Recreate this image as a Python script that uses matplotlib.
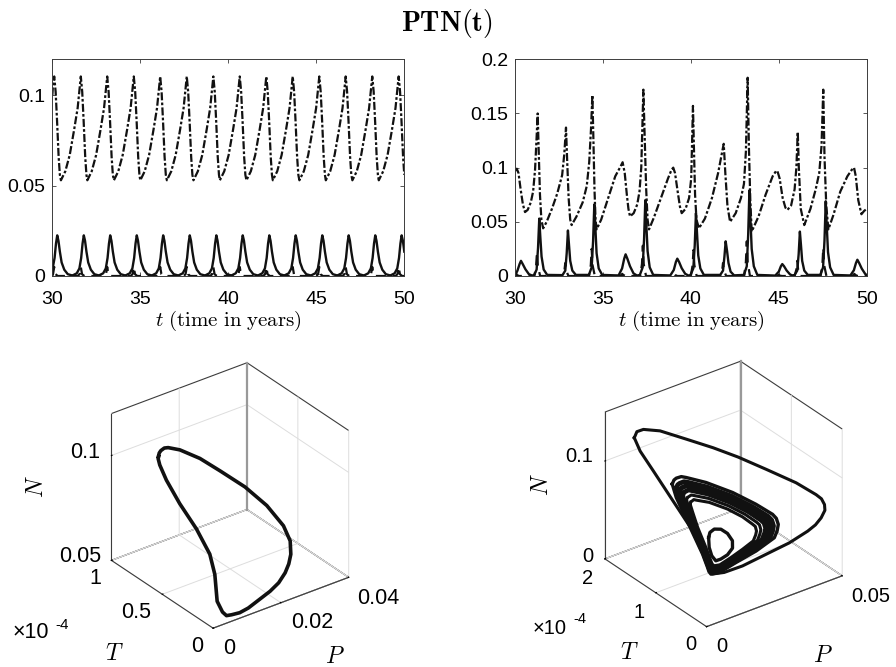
import matplotlib
matplotlib.use("Agg")
import matplotlib.pyplot as plt

plt.rcParams["font.family"] = ["Liberation Sans", "DejaVu Sans"]
plt.rcParams["mathtext.fontset"] = "cm"
plt.rcParams["grid.color"] = "#dddddd"
plt.rcParams["grid.linewidth"] = 0.7

W, H = 896, 667

# Left time series (periodic case)
t_n_left = [30.00, 30.05, 30.11, 30.19, 30.27, 30.36, 30.43, 30.49,
            30.74, 30.99, 31.24, 31.44, 31.54, 31.62, 31.70, 31.78, 31.87, 31.94, 31.99,
            32.24, 32.49, 32.74, 32.94, 33.04, 33.12, 33.20, 33.28, 33.37, 33.44, 33.50,
            33.75, 34.00, 34.25, 34.45, 34.55, 34.63, 34.71, 34.79, 34.88, 34.95, 35.00,
            35.25, 35.50, 35.75, 35.95, 36.05, 36.13, 36.21, 36.29, 36.38, 36.45, 36.51,
            36.76, 37.01, 37.26, 37.46, 37.56, 37.64, 37.72, 37.80, 37.89, 37.96, 38.02,
            38.27, 38.52, 38.77, 38.97, 39.07, 39.15, 39.23, 39.31, 39.40, 39.47, 39.52,
            39.77, 40.02, 40.27, 40.47, 40.57, 40.65, 40.73, 40.81, 40.90, 40.97, 41.03,
            41.28, 41.53, 41.78, 41.98, 42.08, 42.16, 42.24, 42.32, 42.41, 42.48, 42.53,
            42.78, 43.03, 43.28, 43.48, 43.58, 43.66, 43.74, 43.82, 43.91, 43.98, 44.04,
            44.29, 44.54, 44.79, 44.99, 45.09, 45.17, 45.25, 45.33, 45.42, 45.49, 45.54,
            45.79, 46.04, 46.29, 46.49, 46.59, 46.67, 46.75, 46.83, 46.92, 46.99, 47.05,
            47.30, 47.55, 47.80, 48.00, 48.10, 48.18, 48.26, 48.34, 48.43, 48.50, 48.55,
            48.80, 49.05, 49.30, 49.50, 49.60, 49.68, 49.76, 49.84, 49.93, 50.00]
n_left = [.100, .107, .1105, .102, .086, .066, .056, .053,
          .058, .067, .081, .093, .103, .1105, .102, .086, .066, .056, .053,
          .058, .067, .081, .093, .103, .1105, .102, .086, .066, .056, .053,
          .058, .067, .081, .093, .103, .1105, .102, .086, .066, .056, .053,
          .058, .067, .081, .093, .103, .1105, .102, .086, .066, .056, .053,
          .058, .067, .081, .093, .103, .1105, .102, .086, .066, .056, .053,
          .058, .067, .081, .093, .103, .1105, .102, .086, .066, .056, .053,
          .058, .067, .081, .093, .103, .1105, .102, .086, .066, .056, .053,
          .058, .067, .081, .093, .103, .1105, .102, .086, .066, .056, .053,
          .058, .067, .081, .093, .103, .1105, .102, .086, .066, .056, .053,
          .058, .067, .081, .093, .103, .1105, .102, .086, .066, .056, .053,
          .058, .067, .081, .093, .103, .1105, .102, .086, .066, .056, .053,
          .058, .067, .081, .093, .103, .1105, .102, .086, .066, .056, .053,
          .058, .067, .081, .093, .103, .1105, .102, .086, .066, .056]

t_p_left = [30.00, 30.13, 30.21, 30.28, 30.35, 30.43, 30.53, 30.68, 30.88, 31.13,
            31.19, 31.39, 31.54, 31.64, 31.72, 31.79, 31.86, 31.94, 32.04, 32.19, 32.39, 32.64,
            32.69, 32.89, 33.04, 33.14, 33.22, 33.29, 33.36, 33.44, 33.54, 33.69, 33.89, 34.14,
            34.20, 34.40, 34.55, 34.65, 34.73, 34.80, 34.87, 34.95, 35.05, 35.20, 35.40, 35.65,
            35.70, 35.90, 36.05, 36.15, 36.23, 36.30, 36.37, 36.45, 36.55, 36.70, 36.90, 37.15,
            37.21, 37.41, 37.56, 37.66, 37.74, 37.81, 37.88, 37.96, 38.06, 38.21, 38.41, 38.66,
            38.72, 38.92, 39.07, 39.17, 39.25, 39.32, 39.39, 39.47, 39.57, 39.72, 39.92, 40.17,
            40.22, 40.42, 40.57, 40.67, 40.75, 40.82, 40.89, 40.97, 41.07, 41.22, 41.42, 41.67,
            41.73, 41.93, 42.08, 42.18, 42.26, 42.33, 42.40, 42.48, 42.58, 42.73, 42.93, 43.18,
            43.23, 43.43, 43.58, 43.68, 43.76, 43.83, 43.90, 43.98, 44.08, 44.23, 44.43, 44.68,
            44.74, 44.94, 45.09, 45.19, 45.27, 45.34, 45.41, 45.49, 45.59, 45.74, 45.94, 46.19,
            46.24, 46.44, 46.59, 46.69, 46.77, 46.84, 46.91, 46.99, 47.09, 47.24, 47.44, 47.69,
            47.75, 47.95, 48.10, 48.20, 48.28, 48.35, 48.42, 48.50, 48.60, 48.75, 48.95, 49.20,
            49.25, 49.45, 49.60, 49.70, 49.78, 49.85, 49.92, 50.00]
p_left = [.0032, .010, .018, .0225, .0195, .0135, .0075, .0035, .001, .0003,
          .0005, .0015, .0042, .010, .018, .0225, .0195, .0135, .0075, .0035, .001, .0003,
          .0005, .0015, .0042, .010, .018, .0225, .0195, .0135, .0075, .0035, .001, .0003,
          .0005, .0015, .0042, .010, .018, .0225, .0195, .0135, .0075, .0035, .001, .0003,
          .0005, .0015, .0042, .010, .018, .0225, .0195, .0135, .0075, .0035, .001, .0003,
          .0005, .0015, .0042, .010, .018, .0225, .0195, .0135, .0075, .0035, .001, .0003,
          .0005, .0015, .0042, .010, .018, .0225, .0195, .0135, .0075, .0035, .001, .0003,
          .0005, .0015, .0042, .010, .018, .0225, .0195, .0135, .0075, .0035, .001, .0003,
          .0005, .0015, .0042, .010, .018, .0225, .0195, .0135, .0075, .0035, .001, .0003,
          .0005, .0015, .0042, .010, .018, .0225, .0195, .0135, .0075, .0035, .001, .0003,
          .0005, .0015, .0042, .010, .018, .0225, .0195, .0135, .0075, .0035, .001, .0003,
          .0005, .0015, .0042, .010, .018, .0225, .0195, .0135, .0075, .0035, .001, .0003,
          .0005, .0015, .0042, .010, .018, .0225, .0195, .0135, .0075, .0035, .001, .0003,
          .0005, .0015, .0042, .010, .018, .0225, .0195, .0135]

t_t_left = [30.00, 30.04, 30.11, 30.18, 30.31,
            31.44, 31.55, 31.62, 31.69, 31.82,
            32.94, 33.05, 33.12, 33.19, 33.32,
            34.45, 34.56, 34.63, 34.70, 34.83,
            35.95, 36.06, 36.13, 36.20, 36.33,
            37.46, 37.57, 37.64, 37.71, 37.84,
            38.97, 39.08, 39.15, 39.22, 39.35,
            40.47, 40.58, 40.65, 40.72, 40.85,
            41.98, 42.09, 42.16, 42.23, 42.36,
            43.48, 43.59, 43.66, 43.73, 43.86,
            44.99, 45.10, 45.17, 45.24, 45.37,
            46.49, 46.60, 46.67, 46.74, 46.87,
            48.00, 48.11, 48.18, 48.25, 48.38,
            49.50, 49.61, 49.68, 49.75, 49.88, 50.00]
t_left = [0, .001, .005, .001, 0,
          0, .001, .005, .001, 0,
          0, .001, .005, .001, 0,
          0, .001, .005, .001, 0,
          0, .001, .005, .001, 0,
          0, .001, .005, .001, 0,
          0, .001, .005, .001, 0,
          0, .001, .005, .001, 0,
          0, .001, .005, .001, 0,
          0, .001, .005, .001, 0,
          0, .001, .005, .001, 0,
          0, .001, .005, .001, 0,
          0, .001, .005, .001, 0,
          0, .001, .005, .001, 0, 0]

# Right time series (chaotic case)
t_n_right = [30.00, 30.10, 30.20, 30.32, 30.45, 30.57, 30.72, 30.90, 31.03, 31.14, 31.22, 31.29, 31.34, 31.42, 31.50, 31.60,
             31.80, 32.10, 32.40, 32.68, 32.80, 32.90, 32.97, 33.05, 33.14, 33.22,
             33.50, 33.85, 34.08, 34.22, 34.32, 34.40, 34.46, 34.52, 34.58, 34.64,
             34.90, 35.30, 35.70, 36.00, 36.12, 36.24, 36.36, 36.45, 36.54,
             36.75, 36.95, 37.08, 37.18, 37.30, 37.38, 37.46, 37.54, 37.62,
             37.90, 38.30, 38.70, 38.90, 39.00, 39.10, 39.25, 39.38, 39.48,
             39.70, 39.90, 40.02, 40.12, 40.18, 40.24, 40.32, 40.46,
             40.80, 41.20, 41.55, 41.75, 41.87, 41.96, 42.08, 42.23,
             42.55, 42.85, 43.02, 43.13, 43.23, 43.30, 43.38, 43.46,
             43.85, 44.25, 44.65, 44.85, 44.92, 45.05, 45.22, 45.38, 45.49,
             45.70, 45.90, 46.00, 46.08, 46.14, 46.25, 46.45,
             46.80, 47.10, 47.30, 47.43, 47.53, 47.60, 47.70, 47.82,
             48.10, 48.50, 48.90, 49.15, 49.28, 49.38, 49.52, 49.70, 49.85, 50.00]
n_right = [.097, .099, .095, .08, .066, .059, .061, .068, .078, .098, .125, .150, .120, .075, .052, .044,
           .050, .062, .076, .093, .112, .137, .105, .072, .052, .047,
           .055, .068, .083, .105, .135, .167, .125, .080, .052, .043,
           .052, .072, .092, .101, .105, .095, .075, .062, .055,
           .058, .066, .078, .100, .172, .125, .080, .052, .043,
           .054, .072, .090, .098, .100, .095, .078, .064, .058,
           .062, .072, .090, .157, .115, .075, .052, .044,
           .053, .072, .095, .112, .122, .095, .065, .050,
           .058, .072, .085, .115, .183, .12, .07, .041,
           .055, .075, .092, .097, .097, .09, .072, .063, .061,
           .065, .08, .10, .133, .10, .062, .047,
           .062, .08, .095, .12, .172, .11, .065, .043,
           .056, .078, .092, .098, .100, .092, .07, .057, .060, .062]

t_p_right = [30.00, 30.14, 30.26, 30.34, 30.44, 30.59, 30.79, 30.99,
             31.10, 31.23, 31.31, 31.38, 31.44, 31.51, 31.63, 31.83,
             32.70, 32.86, 32.94, 33.01, 33.07, 33.14, 33.26, 33.46,
             34.20, 34.36, 34.44, 34.51, 34.57, 34.64, 34.76, 34.96,
             35.89, 36.09, 36.21, 36.29, 36.39, 36.54, 36.74, 36.94,
             37.10, 37.26, 37.34, 37.41, 37.47, 37.54, 37.66, 37.86,
             38.83, 39.03, 39.15, 39.23, 39.33, 39.48, 39.68, 39.88,
             39.98, 40.14, 40.22, 40.29, 40.35, 40.42, 40.54, 40.74,
             41.67, 41.83, 41.91, 41.98, 42.06, 42.14, 42.26, 42.46,
             43.02, 43.18, 43.26, 43.33, 43.39, 43.46, 43.58, 43.78,
             44.80, 45.00, 45.12, 45.20, 45.30, 45.45, 45.65, 45.85,
             45.90, 46.05, 46.13, 46.20, 46.26, 46.33, 46.45, 46.65,
             47.36, 47.52, 47.60, 47.67, 47.73, 47.80, 47.92, 48.12,
             49.07, 49.27, 49.39, 49.47, 49.57, 49.72, 49.92, 50.00]
p_right = [.0005, .005, .011, .014, .011, .0063, .0017, .0003,
           .0012, .006, .026, .053, .036, .018, .006, .001,
           .0008, .005, .021, .042, .029, .014, .005, .001,
           .001, .008, .032, .066, .045, .021, .007, .001,
           .0005, .007, .016, .02, .016, .009, .0024, .0004,
           .001, .008, .034, .07, .047, .023, .008, .001,
           .0005, .0056, .013, .016, .013, .0072, .002, .0003,
           .001, .007, .028, .058, .04, .019, .007, .001,
           .001, .005, .018, .032, .023, .012, .004, .0006,
           .001, .009, .038, .079, .052, .025, .009, .001,
           .0004, .004, .009, .011, .009, .005, .0013, .0002,
           .001, .005, .02, .041, .029, .014, .005, .001,
           .001, .008, .033, .069, .046, .022, .008, .001,
           .0005, .0053, .012, .015, .012, .0068, .0018, .001]

t_t_right = [30.00, 30.05, 30.10, 30.23,
             31.10, 31.20, 31.25, 31.30, 31.43,
             32.71, 32.81, 32.86, 32.91, 33.04,
             34.21, 34.31, 34.36, 34.41, 34.54,
             35.95, 36.05, 36.10, 36.15, 36.28,
             37.12, 37.22, 37.27, 37.32, 37.45,
             38.90, 39.00, 39.05, 39.10, 39.23,
             40.00, 40.10, 40.15, 40.20, 40.33,
             41.68, 41.78, 41.83, 41.88, 42.01,
             43.03, 43.13, 43.18, 43.23, 43.36,
             44.85, 44.95, 45.00, 45.05, 45.18,
             45.90, 46.00, 46.05, 46.10, 46.23,
             47.38, 47.48, 47.53, 47.58, 47.71,
             49.15, 49.25, 49.30, 49.35, 49.48, 50.00]
t_right = [.001, .003, .001, 0,
           0, .009, .022, .009, 0,
           0, .005, .012, .005, 0,
           0, .01, .025, .01, 0,
           0, .001, .002, .001, 0,
           0, .011, .028, .011, 0,
           0, .001, .002, .001, 0,
           0, .01, .024, .01, 0,
           0, .005, .012, .005, 0,
           0, .013, .032, .013, 0,
           0, .0004, .001, .0004, 0,
           0, .006, .014, .006, 0,
           0, .01, .026, .01, 0,
           0, .001, .002, .001, 0, 0]

# Phase portrait, left (T in units of 1e-4)
loop_p_left = [.00324, .0033, .00361, .00415, .00478, .00664, .00983, .01302, .01700, .02046, .02312, .02418, .02396, .0231, .02179, .0197,
               .01704, .01068, .0087, .00686, .0056, .00468, .00422, .00392, .00288, .00168, .00069, .00068, .00122, .0021, .00324]
loop_t_left = [.645, .64, .6345, .618, .601, .548, .457, .366, .253, .154, .079, .048, .0345, .026, .018, .012,
               .008, .010, .028, .0473, .055, .0635, .1008, .1138, .1285, .2198, .351, .482, .565, .61, .645]
loop_n_left = [.10898, .1108, .11195, .1134, .11377, .11328, .1102, .1053, .09886, .09109, .08227, .07541, .0696, .0658, .0626, .0593,
               .057, .0528, .0512, .0507, .0508, .0528, .057, .0696, .0794, .0892, .0976, .1046, .1088, .1098, .10898]

# Phase portrait, right: big excursion, then band of loops, then small loop
big_p = [.00334, .00279, .00295, .00608, .01135, .01665, .02208, .02875, .03603, .0415, .0431, .04385, .0440, .0426, .0405,
         .03765, .03125, .023, .01513, .0091, .00593, .00499, .00311, .00183, .00208, .0025, .00334]
big_t = [1.6, 1.52, 1.4, 1.24, 1.0, .76, .56, .36, .16, .06, .04, .02, .02, .02, .02,
         .02, .04, .06, .10, .14, .2, .28, .44, .76, 1.16, 1.44, 1.6]
big_n = [.1341, .1437, .15, .1508, .1451, .1392, .131, .1184, .104, .0897, .0845, .0785, .0725, .0662, .0612,
         .0578, .0518, .0479, .0429, .0411, .0407, .0558, .0795, .1004, .1169, .1269, .1341]

band_p = [
    [.00184, .00222, .0028, .00384, .00487, .00935, .01415, .0186, .02468, .02622, .02715, .02722, .02668, .02285, .014, .00916, .00662, .00601, .0056, .00395, .00307, .00323, .00184],
    [.00258, .00287, .00335, .00422, .00509, .00916, .01356, .01758, .02306, .02452, .02539, .02545, .02492, .02123, .01347, .00896, .0066, .00601, .00562, .00409, .00332, .00363, .00258],
    [.00318, .00339, .0038, .00454, .00527, .00901, .01308, .01675, .02173, .02314, .02395, .02402, .02349, .01991, .01303, .0088, .00659, .00602, .00564, .00421, .00352, .00395, .00318],
    [.00378, .00392, .00425, .00486, .00546, .00886, .0126, .01592, .0204, .02175, .02251, .02258, .02205, .01859, .01259, .00863, .00658, .00602, .00566, .00433, .00373, .00427, .00378],
    [.00452, .00456, .0048, .00524, .00568, .00867, .01201, .0149, .01878, .02006, .02075, .02082, .0203, .01697, .01206, .00843, .00656, .00602, .00568, .00447, .00397, .00467, .00452],
    [.00519, .00515, .0053, .00559, .00588, .0085, .01148, .01398, .0173, .01852, .01915, .01922, .0187, .0155, .01157, .00825, .00655, .00602, .0057, .0046, .0042, .00503, .00519],
]
band_t = [
    [.774, .76, .746, .703, .66, .508, .242, .023, .019, .028, .038, .064, .091, .246, .171, .24, .268, .274, .28, .29, .502, .769, .774],
    [.736, .7225, .709, .669, .629, .484, .233, .027, .019, .0285, .038, .0635, .089, .218, .164, .227, .253, .26, .267, .283, .48, .719, .736],
    [.704, .692, .68, .642, .604, .465, .225, .03, .019, .029, .039, .063, .087, .196, .159, .216, .241, .2485, .256, .278, .461, .677, .704],
    [.673, .6615, .65, .6145, .579, .445, .218, .033, .02, .0295, .039, .062, .085, .173, .153, .205, .229, .237, .245, .273, .443, .636, .673],
    [.635, .624, .613, .5805, .548, .422, .208, .037, .02, .03, .04, .061, .082, .145, .146, .192, .214, .223, .232, .266, .42, .586, .635],
    [.6, .59, .58, .55, .52, .4, .2, .04, .02, .03, .04, .06, .08, .12, .14, .18, .2, .21, .22, .26, .4, .54, .6],
]
band_n = [
    [.117, .1212, .123, .125, .1245, .12, .114, .105, .0885, .0825, .075, .0675, .06, .045, .045, .0375, .0375, .0405, .045, .06, .0825, .102, .117],
    [.113, .1169, .1184, .1206, .1203, .1165, .1112, .1031, .088, .0825, .0753, .0685, .0612, .048, .0469, .0399, .0399, .0426, .0469, .0616, .0827, .1, .113],
    [.1098, .1134, .1147, .117, .1168, .1137, .1089, .1015, .0875, .0823, .0756, .0693, .0622, .0505, .0485, .0419, .0419, .0444, .0485, .0629, .0828, .0983, .1098],
    [.1066, .11, .111, .1134, .1133, .1109, .1066, .1, .0871, .0823, .0759, .0701, .0631, .053, .05, .0438, .0439, .0462, .05, .0642, .083, .0966, .1066],
    [.1026, .1057, .1064, .109, .1091, .1074, .1038, .098, .0866, .0822, .0762, .0711, .0643, .056, .052, .0462, .0463, .0484, .052, .0658, .0831, .0946, .1026],
    [.099, .1019, .1023, .105, .1052, .1043, .1013, .0963, .0861, .0821, .0765, .0717, .0654, .0588, .0537, .0484, .0485, .0503, .0537, .0672, .0833, .0927, .099],
]
band_lw = [2.4, 3.4, 3.6, 3.4, 2.2, 2.2]

small_p = [.00675, .00685, .0077, .0094, .0107, .0114, .01105, .0092, .0071, .00563, .0049, .00545, .00675]
small_t = [.32, .3, .26, .22, .16, .1, .08, .08, .1, .12, .16, .24, .32]
small_n = [.073, .0788, .0827, .0822, .0786, .0725, .066, .0611, .0582, .0573, .0618, .067, .073]

ink = "#111111"
frame = "#3c3c3c"
dash_n = (0, (3.6, 1.0, 1.2, 1.0))
dash_t = (0, (4.5, 3))
xticks = [30, 35, 40, 45, 50]
xlabel = r"$t\ \mathrm{(time\ in\ years)}$"


def px_text(fig, x, y, s, **kw):
    # place text using pixel coordinates measured from the top left
    kw.setdefault("ha", "center")
    kw.setdefault("va", "center")
    fig.text(x / W, 1 - y / H, s, **kw)


def time_panel(fig, x0, x1, series, ylim, yticks, ylabels):
    y0, y1 = 59.3, 276.0
    ax = fig.add_axes([x0 / W, 1 - y1 / H, (x1 - x0) / W, (y1 - y0) / H])
    t_n, n, t_p, p, t_t, t = series
    ax.plot(t_n, n, color=ink, lw=1.6, ls=dash_n)
    ax.plot(t_t, t, color=ink, lw=1.6, ls=dash_t)
    ax.plot(t_p, p, color=ink, lw=1.7)
    ax.set_xlim(30, 50)
    ax.set_ylim(*ylim)
    ax.set_xticks(xticks)
    ax.set_yticks(yticks)
    ax.set_yticklabels(ylabels)
    ax.tick_params(direction="in", top=True, right=True, length=3.2, width=0.6,
                   labelsize=14, color=frame)
    ax.tick_params(axis="x", pad=10.5)
    ax.tick_params(axis="y", pad=5)
    for s in ax.spines.values():
        s.set_color(frame)
        s.set_linewidth(0.7)
    ax.set_xlabel(xlabel, fontsize=15, labelpad=1)
    return ax


def phase_panel(fig, cx, cy, lims, ticks):
    size = 300
    ax = fig.add_axes([(cx - size / 2) / W, 1 - (cy + size / 2) / H, size / W, size / H],
                      projection="3d", proj_type="ortho")
    ax.view_init(elev=30, azim=-126.87)
    ax.set_box_aspect((1, 1, 1), zoom=0.95)
    ax.patch.set_alpha(0)
    ax.set_xlim(*lims[0])
    ax.set_ylim(*lims[1])
    ax.set_zlim(*lims[2])
    ax.set_xticks(ticks[0])
    ax.set_yticks(ticks[1])
    ax.set_zticks(ticks[2])
    ax.set_xticklabels([])
    ax.set_yticklabels([])
    ax.set_zticklabels([])
    for axis in (ax.xaxis, ax.yaxis, ax.zaxis):
        axis.pane.set_alpha(None)
        axis.pane.set_facecolor((1, 1, 1, 0))
        axis.pane.set_edgecolor(frame)
        axis.pane.set_linewidth(0.8)
        axis.line.set_color(frame)
        axis.line.set_linewidth(0.8)
        axis._axinfo["tick"]["inward_factor"] = 0.0
        axis._axinfo["tick"]["outward_factor"] = 0.06
        axis._axinfo["tick"]["color"] = frame
    # the back vertical edge is drawn heavier and grey in the original
    ax.plot([lims[0][1]] * 2, [lims[1][1]] * 2, lims[2], color="#999999", lw=1.6, zorder=0)
    return ax


fig = plt.figure(figsize=(W / 100, H / 100), dpi=100)

px_text(fig, 447, 23, r"$\mathbf{PTN(t)}$", fontsize=20)

time_panel(fig, 52.3, 404.3, (t_n_left, n_left, t_p_left, p_left, t_t_left, t_left),
           (0, 0.12), [0, 0.05, 0.1], ["0", "0.05", "0.1"])
time_panel(fig, 515, 866.7, (t_n_right, n_right, t_p_right, p_right, t_t_right, t_right),
           (0, 0.2), [0, 0.05, 0.1, 0.15, 0.2], ["0", "0.05", "0.1", "0.15", "0.2"])

ax3 = phase_panel(fig, 226, 499.5, ((0, 0.04), (0, 1), (0.05, 0.12)),
                  ([0, 0.02, 0.04], [0, 0.5, 1], [0.05, 0.1]))
ax3.plot(loop_p_left, loop_t_left, loop_n_left, color=ink, lw=2.6)

ax4 = phase_panel(fig, 719.5, 498, ((0, 0.05), (0, 2), (0, 0.15)),
                  ([0, 0.05], [0, 1, 2], [0, 0.1]))
ax4.plot(big_p, big_t, big_n, color=ink, lw=2.2)
for bp, bt, bn, blw in zip(band_p, band_t, band_n, band_lw):
    ax4.plot(bp, bt, bn, color=ink, lw=blw)
ax4.plot(small_p, small_t, small_n, color=ink, lw=2.4)

# tick and axis labels of the 3D panels
for x, y, s in [(100, 452, "0.1"), (101, 556, "0.05")]:
    px_text(fig, x, y, s, ha="right", fontsize=15.5)
for x, y, s in [(95, 579, "1"), (136, 613, "0.5"), (197, 647, "0"),
                (229, 648, "0"), (312, 623, "0.02"), (378, 598, "0.04")]:
    px_text(fig, x, y, s, fontsize=15.5)
px_text(fig, 13, 633, "\u00d710", ha="left", fontsize=15.5)
px_text(fig, 55, 625, "-4", ha="left", fontsize=11)
px_text(fig, 37, 487, r"$N$", fontsize=17, rotation=90)
px_text(fig, 114, 654, r"$T$", fontsize=17)
px_text(fig, 335, 657, r"$P$", fontsize=17)

for x, y, s in [(593, 457, "0.1"), (593, 556, "0")]:
    px_text(fig, x, y, s, ha="right", fontsize=14.5)
for x, y, s in [(588, 578, "2"), (639, 612, "1"), (691, 645, "0"),
                (722, 647, "0"), (871, 596, "0.05")]:
    px_text(fig, x, y, s, fontsize=14.5)
px_text(fig, 533, 628, "\u00d710", ha="left", fontsize=14.5)
px_text(fig, 573, 619, "-4", ha="left", fontsize=10.5)
px_text(fig, 542, 485, r"$N$", fontsize=17, rotation=90)
px_text(fig, 629, 653, r"$T$", fontsize=17)
px_text(fig, 823, 656, r"$P$", fontsize=17)

fig.savefig("out.png", dpi=100)
